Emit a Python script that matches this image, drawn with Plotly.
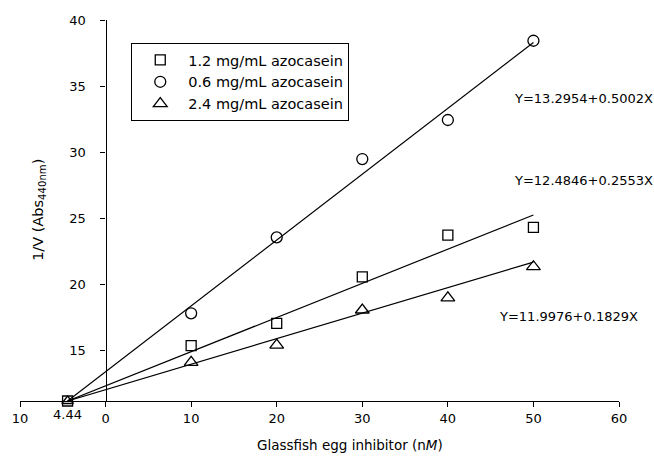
import plotly.graph_objects as go

# ---- data ----
x_conc = [10, 20, 30, 40, 50]
y_12 = [15.38, 17.07, 20.59, 23.74, 24.33]   # 1.2 mg/mL azocasein (squares)
y_06 = [17.83, 23.57, 29.49, 32.44, 38.43]   # 0.6 mg/mL azocasein (circles)
y_24 = [14.12, 15.43, 18.08, 19.00, 21.35]   # 2.4 mg/mL azocasein (triangles)

x_intercept = -4.44
y_intercept = 11.2

# fitted lines: from common intercept to x = 50
line_x = [x_intercept, 50]
line_12 = [y_intercept, 25.26]
line_06 = [y_intercept, 38.30]
line_24 = [y_intercept, 21.70]

eq_labels = ["Y=13.2954+0.5002X", "Y=12.4846+0.2553X", "Y=11.9976+0.1829X"]
eq_x = [55.8, 55.8, 54.1]
eq_y = [34.1, 27.9, 17.55]

xtick_vals = [-10, 0, 10, 20, 30, 40, 50, 60]
xtick_text = ["10", "0", "10", "20", "30", "40", "50", "60"]
ytick_vals = [15, 20, 25, 30, 35, 40]

FONT = "DejaVu Sans"
fig = go.Figure()

for ly in (line_06, line_12, line_24):
    fig.add_trace(go.Scatter(x=line_x, y=ly, mode="lines",
                             line=dict(color="black", width=1.2),
                             showlegend=False, hoverinfo="skip", cliponaxis=False))

fig.add_trace(go.Scatter(x=x_conc, y=y_12, mode="markers", name="1.2 mg/mL azocasein",
                         marker=dict(symbol="square-open", size=10, color="black",
                                     line=dict(width=1.3))))
fig.add_trace(go.Scatter(x=x_conc, y=y_06, mode="markers", name="0.6 mg/mL azocasein",
                         marker=dict(symbol="circle-open", size=11, color="black",
                                     line=dict(width=1.3))))
fig.add_trace(go.Scatter(x=x_conc, y=y_24, mode="markers", name="2.4 mg/mL azocasein",
                         marker=dict(symbol="triangle-up-open", size=12, color="black",
                                     line=dict(width=1.3))))
# intercept markers
fig.add_trace(go.Scatter(x=[x_intercept], y=[y_intercept], mode="markers", showlegend=False,
                         marker=dict(symbol="square-open", size=10, color="black", line=dict(width=1.3)),
                         cliponaxis=False))
fig.add_trace(go.Scatter(x=[x_intercept], y=[y_intercept], mode="markers", showlegend=False,
                         marker=dict(symbol="triangle-up-open", size=10, color="black", line=dict(width=1.3)),
                         cliponaxis=False))

for t, xx, yy in zip(eq_labels, eq_x, eq_y):
    fig.add_annotation(x=xx, y=yy, xref="x", yref="y", text=t, showarrow=False,
                       xanchor="center", yanchor="middle",
                       font=dict(family=FONT, size=13, color="black"))

fig.add_annotation(x=x_intercept, y=0, xref="x", yref="paper", text="4.44", showarrow=False,
                   xanchor="center", yanchor="middle", yshift=-13,
                   font=dict(family=FONT, size=13, color="black"))

fig.add_annotation(x=(348 - 16) / 603, y=-44 / 381, xref="paper", yref="paper",
                   xanchor="center", yanchor="middle",
                   text="Glassfish egg inhibitor (n<i>M</i>)", showarrow=False,
                   font=dict(family=FONT, size=13.5, color="black"))
fig.add_annotation(x=(35 - 16) / 603, y=(401 - 210) / 381, xref="paper", yref="paper",
                   xanchor="center", yanchor="middle",
                   text="1/V (Abs<sub>440nm</sub>)", textangle=-90, showarrow=False,
                   font=dict(family=FONT, size=14.5, color="black"))

fig.update_layout(
    width=654, height=462,
    margin=dict(l=16, r=35, t=20, b=61),
    paper_bgcolor="white", plot_bgcolor="white",
    font=dict(family=FONT, size=13, color="black"),
    showlegend=True,
    legend=dict(x=(128 - 16) / 603, y=(401 - 43) / 381, xanchor="left", yanchor="top",
                bordercolor="black", borderwidth=1, bgcolor="white",
                font=dict(family=FONT, size=14.5, color="black"),
                itemwidth=46, tracegroupgap=0),
    xaxis=dict(range=[-10, 60], domain=[0, 1], showgrid=False, zeroline=False,
               showline=True, linecolor="black", linewidth=1.2,
               ticks="outside", ticklen=5, tickwidth=1.2, tickcolor="black",
               tickvals=xtick_vals, ticktext=xtick_text),
    yaxis=dict(range=[y_intercept, 40], anchor="free", position=10 / 70, showgrid=False,
               zeroline=False, showline=True, linecolor="black", linewidth=1.2,
               ticks="outside", ticklen=5, tickwidth=1.2, tickcolor="black",
               ticklabelstandoff=12, tickvals=ytick_vals),
)

fig.write_html("out.html")
